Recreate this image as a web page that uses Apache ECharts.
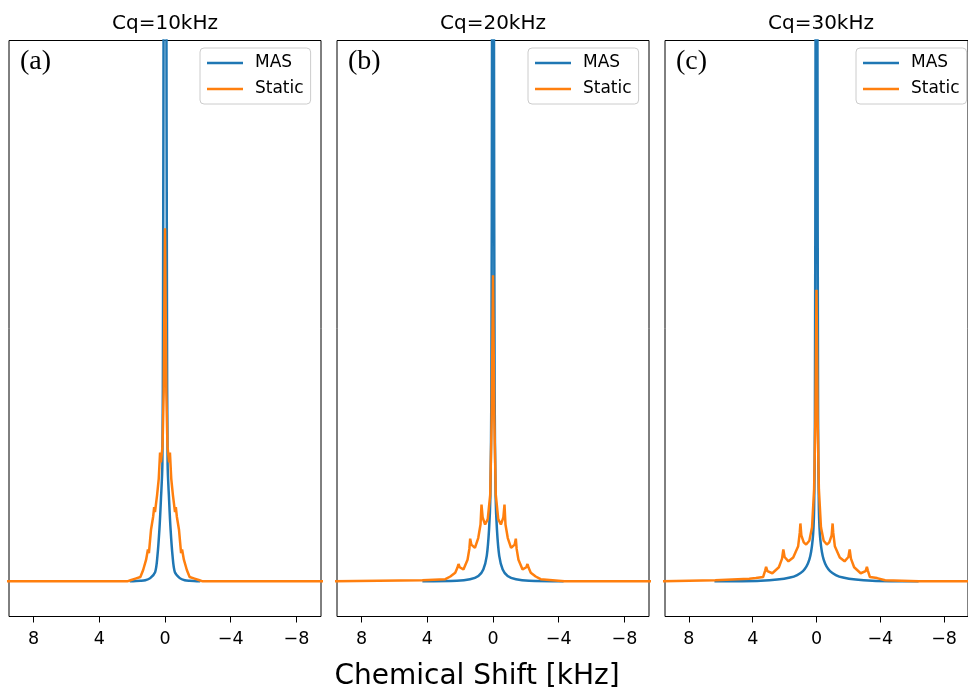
<!DOCTYPE html>
<html>
<head>
<meta charset="utf-8">
<script src="https://cdn.jsdelivr.net/npm/echarts@6/dist/echarts.min.js"></script>
<style>html,body{margin:0;padding:0;background:#fff}#c{width:968px;height:690px}</style>
</head>
<body>
<div id="c"></div>
<script>
// ---- data (x in kHz, intensity normalised) ----
const panelTitles = ['Cq=10kHz', 'Cq=20kHz', 'Cq=30kHz'];
const panelLabels = ['(a)', '(b)', '(c)'];
const seriesNames = ['MAS', 'Static'];
const tickValues = [-8, -4, 0, 4, 8];
const xLabel = 'Chemical Shift [kHz]';

const masA_x = [-2.15,-1.5,-1.2,-0.9,-0.6,-0.46,-0.34,-0.25,-0.16,-0.12,-0.08,-0.04,0,0.04,0.08,0.12,0.16,0.25,0.34,0.46,0.6,0.9,1.2,1.5,2.15];
const masA_y = [0,0.001,0.002,0.006,0.017,0.047,0.096,0.15,0.216,0.5,1.2,3,5,3,1.2,0.5,0.216,0.15,0.096,0.047,0.017,0.006,0.002,0.001,0];
const staticA_x = [-9.8,-2.3,-2.1,-1.8,-1.5,-1.33,-1.15,-1.04,-0.98,-0.85,-0.72,-0.66,-0.61,-0.48,-0.38,-0.3,-0.25,-0.15,-0.08,-0.04,0,0.04,0.08,0.15,0.25,0.3,0.38,0.48,0.61,0.66,0.72,0.85,0.98,1.04,1.15,1.33,1.5,1.8,2.1,2.3,9.8];
const staticA_y = [0,0,0.002,0.005,0.008,0.021,0.04,0.059,0.052,0.096,0.12,0.137,0.128,0.16,0.19,0.238,0.22,0.25,0.35,0.5,0.653,0.5,0.35,0.25,0.22,0.238,0.19,0.16,0.128,0.137,0.12,0.096,0.052,0.059,0.04,0.021,0.008,0.005,0.002,0,0];

const masB_x = [-4.3,-2.2,-1.4,-0.89,-0.59,-0.38,-0.24,-0.16,-0.1,-0.06,-0.03,0,0.03,0.06,0.1,0.16,0.24,0.38,0.59,0.89,1.4,2.2,4.3];
const masB_y = [0,0.001,0.004,0.01,0.022,0.047,0.096,0.157,0.35,1.0,2.5,5,2.5,1.0,0.35,0.157,0.096,0.047,0.022,0.01,0.004,0.001,0];
const staticB_x = [-9.8,-4.35,-4.3,-2.9,-2.6,-2.3,-2.17,-2.1,-2.03,-1.8,-1.55,-1.44,-1.39,-1.32,-1.1,-0.9,-0.76,-0.7,-0.63,-0.48,-0.32,-0.17,-0.08,0,0.08,0.17,0.32,0.48,0.63,0.7,0.76,0.9,1.1,1.32,1.39,1.44,1.55,1.8,2.03,2.1,2.17,2.3,2.6,2.9,4.3,4.35,9.8];
const staticB_y = [0,0,0.002,0.004,0.009,0.016,0.025,0.032,0.026,0.022,0.04,0.06,0.079,0.068,0.062,0.08,0.105,0.142,0.118,0.105,0.115,0.16,0.3,0.566,0.3,0.16,0.115,0.105,0.118,0.142,0.105,0.08,0.062,0.068,0.079,0.06,0.04,0.022,0.026,0.032,0.025,0.016,0.009,0.004,0.002,0,0];

const masC_x = [-6.4,-3.5,-1.66,-0.85,-0.45,-0.24,-0.15,-0.1,-0.06,-0.03,0,0.03,0.06,0.1,0.15,0.24,0.45,0.85,1.66,3.5,6.4];
const masC_y = [0,0.001,0.007,0.019,0.04,0.077,0.133,0.3,1.0,2.5,5,2.5,1.0,0.3,0.133,0.077,0.04,0.019,0.007,0.001,0];
const staticC_x = [-9.8,-6.4,-6.35,-4.3,-4.22,-3.8,-3.35,-3.22,-3.16,-3.08,-2.77,-2.36,-2.16,-2.08,-2.0,-1.76,-1.46,-1.15,-1.05,-1.01,-0.95,-0.8,-0.65,-0.45,-0.28,-0.15,-0.07,0,0.07,0.15,0.28,0.45,0.65,0.8,0.95,1.01,1.05,1.15,1.46,1.76,2.0,2.08,2.16,2.36,2.77,3.08,3.16,3.22,3.35,3.8,4.22,4.3,6.35,6.4,9.8];
const staticC_y = [0,0,0.002,0.002,0.005,0.006,0.008,0.02,0.027,0.019,0.015,0.026,0.042,0.059,0.045,0.037,0.044,0.065,0.09,0.107,0.085,0.072,0.068,0.075,0.1,0.17,0.3,0.539,0.3,0.17,0.1,0.075,0.068,0.072,0.085,0.107,0.09,0.065,0.044,0.037,0.045,0.059,0.042,0.026,0.015,0.019,0.027,0.02,0.008,0.006,0.005,0.002,0.002,0,0];

const masX = [masA_x, masB_x, masC_x];
const masY = [masA_y, masB_y, masC_y];
const staticX = [staticA_x, staticB_x, staticC_x];
const staticY = [staticA_y, staticB_y, staticC_y];

// ---- layout ----
const gridLefts = [9, 337, 665];
const gridW = 312, gridTop = 40.5, gridH = 576;
const colors = ['#1f77b4', '#ff7f0e'];
const zip = (xs, ys) => xs.map((x, i) => [x, ys[i]]);
const minusFmt = v => (v < 0 ? '\u2212' + Math.abs(v) : String(v));

const grids = [], xAxes = [], yAxes = [], series = [], titles = [], legends = [];
for (let p = 0; p < 3; p++) {
  grids.push({left: gridLefts[p], top: gridTop, width: gridW, height: gridH,
    show: true, borderColor: '#000', borderWidth: 1, backgroundColor: 'transparent', containLabel: false});
  xAxes.push({type: 'value', gridIndex: p, inverse: true, min: -9.5, max: 9.5,
    axisLine: {show: false, onZero: false},
    axisTick: {show: true, customValues: tickValues, length: 6, lineStyle: {color: '#000', width: 1}},
    axisLabel: {show: true, customValues: tickValues, formatter: minusFmt, color: '#000',
      fontSize: 17.5, fontFamily: 'DejaVu Sans', margin: 14},
    splitLine: {show: false}});
  yAxes.push({type: 'value', gridIndex: p, min: -0.065, max: 1, show: false});
  series.push({name: seriesNames[0], type: 'line', xAxisIndex: p, yAxisIndex: p,
    data: zip(masX[p], masY[p]), showSymbol: false, symbol: 'none', smooth: 0.3,
    lineStyle: {color: colors[0], width: 2.5}, itemStyle: {color: colors[0]}, animation: false, clip: true});
  series.push({name: seriesNames[1], type: 'line', xAxisIndex: p, yAxisIndex: p,
    data: zip(staticX[p], staticY[p]), showSymbol: false, symbol: 'none', smooth: false,
    lineStyle: {color: colors[1], width: 2.5}, itemStyle: {color: colors[1]}, animation: false, clip: true});
  titles.push({text: panelTitles[p], left: gridLefts[p] + gridW / 2, top: 14, padding: 0,
    textAlign: 'center', textVerticalAlign: 'top',
    textStyle: {fontFamily: 'DejaVu Sans', fontSize: 20, fontWeight: 'normal', color: '#000'}});
  titles.push({text: panelLabels[p], left: gridLefts[p] + 11, top: 48, padding: 0,
    textAlign: 'left', textVerticalAlign: 'top',
    textStyle: {fontFamily: 'Liberation Serif', fontSize: 28, fontWeight: 'normal', color: '#000'}});
  legends.push({data: seriesNames, orient: 'vertical', left: gridLefts[p] + 191, top: 48,
    icon: 'rect', itemWidth: 36, itemHeight: 2.5, itemGap: 6,
    padding: [5, 7, 5, 7], borderColor: '#cccccc', borderWidth: 1, borderRadius: 4,
    backgroundColor: 'rgba(255,255,255,0.8)', selectedMode: false,
    textStyle: {fontFamily: 'DejaVu Sans', fontSize: 17, color: '#000', lineHeight: 20, padding: [0, 0, 0, 7]}});
}
titles.push({text: xLabel, left: 477, top: 663, padding: 0, textAlign: 'center', textVerticalAlign: 'top',
  textStyle: {fontFamily: 'DejaVu Sans', fontSize: 28, fontWeight: 'normal', color: '#000'}});

const chart = echarts.init(document.getElementById('c'), null, {renderer: 'canvas'});
chart.setOption({animation: false, backgroundColor: '#fff', title: titles, legend: legends,
  grid: grids, xAxis: xAxes, yAxis: yAxes, series: series});
</script>
</body>
</html>
